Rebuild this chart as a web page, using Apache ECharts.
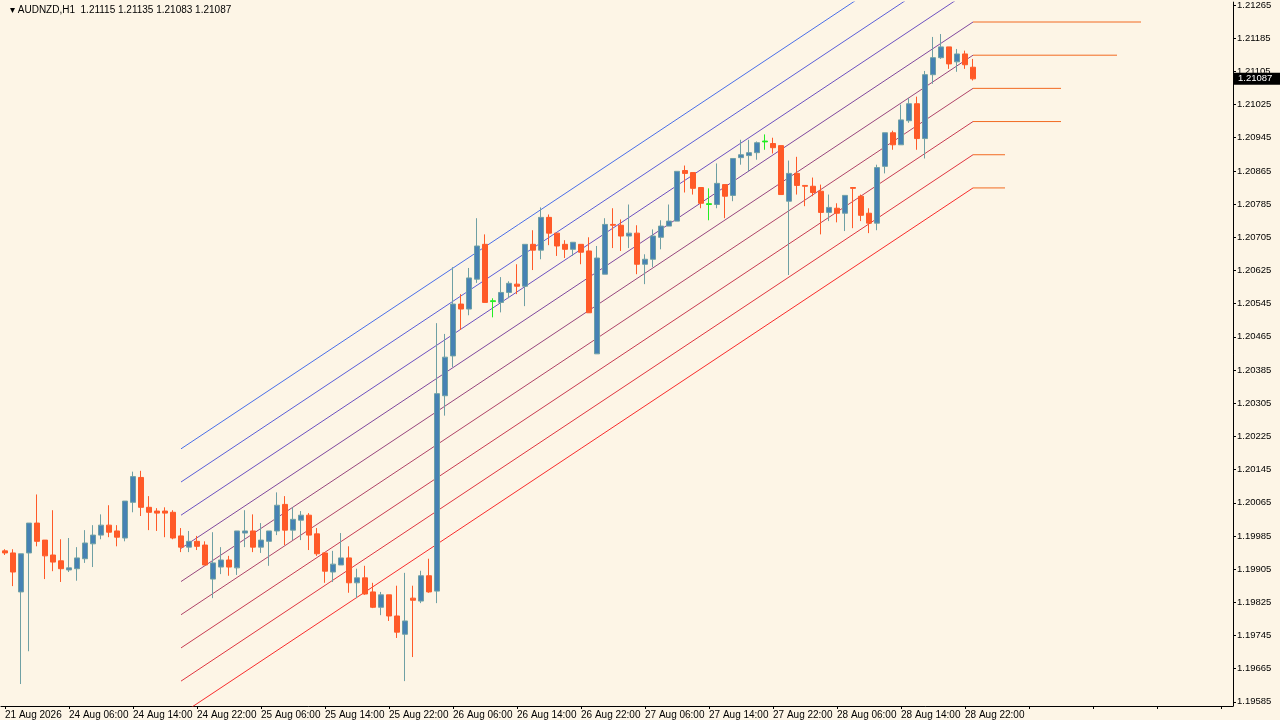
<!DOCTYPE html>
<html><head><meta charset="utf-8">
<script src="https://cdn.jsdelivr.net/npm/echarts@6/dist/echarts.min.js"></script>
<style>html,body{margin:0;padding:0;background:#fdf5e6}#c{width:1280px;height:720px}</style>
</head><body><div id="c"></div>
<script>
const openP=[1.19949,1.19944,1.19850,1.19944,1.20016,1.19975,1.19939,1.19925,1.19903,1.19906,1.19930,1.19966,1.19987,1.20011,1.19997,1.19980,1.20066,1.20126,1.20054,1.20045,1.20045,1.20042,1.19985,1.19958,1.19972,1.19963,1.19881,1.19910,1.19927,1.19908,1.19992,1.19997,1.19958,1.19972,1.19997,1.20061,1.19999,1.20023,1.20035,1.19990,1.19944,1.19898,1.19915,1.19932,1.19872,1.19884,1.19850,1.19813,1.19843,1.19792,1.19748,1.19835,1.19828,1.19889,1.19852,1.20323,1.20419,1.20544,1.20532,1.20604,1.20688,1.20550,1.20548,1.20572,1.20592,1.20587,1.20688,1.20674,1.20753,1.20715,1.20688,1.20676,1.20688,1.20672,1.20424,1.20616,1.20736,1.20734,1.20708,1.20715,1.20640,1.20652,1.20705,1.20732,1.20744,1.20866,1.20861,1.20825,1.20784,1.20784,1.20832,1.20806,1.20897,1.20902,1.20909,1.20935,1.20931,1.20926,1.20792,1.20859,1.20830,1.20828,1.20816,1.20765,1.20775,1.20763,1.20825,1.20804,1.20763,1.20739,1.20876,1.20957,1.20928,1.20986,1.21027,1.20943,1.21097,1.21138,1.21164,1.21128,1.21147,1.21115];
const closeP=[1.19944,1.19898,1.19942,1.20016,1.19972,1.19937,1.19922,1.19906,1.19908,1.19932,1.19968,1.19987,1.20011,1.19994,1.19982,1.20069,1.20128,1.20054,1.20042,1.20040,1.20040,1.19980,1.19958,1.19972,1.19960,1.19915,1.19920,1.19927,1.19910,1.19997,1.19997,1.19958,1.19975,1.19997,1.20059,1.19999,1.20025,1.20035,1.19987,1.19942,1.19900,1.19917,1.19932,1.19872,1.19884,1.19845,1.19813,1.19843,1.19792,1.19753,1.19780,1.19830,1.19889,1.19850,1.20328,1.20416,1.20544,1.20532,1.20607,1.20684,1.20548,1.20552,1.20572,1.20594,1.20587,1.20688,1.20674,1.20753,1.20715,1.20684,1.20676,1.20693,1.20669,1.20523,1.20655,1.20736,1.20734,1.20708,1.20715,1.20640,1.20652,1.20708,1.20732,1.20744,1.20864,1.20859,1.20823,1.20787,1.20786,1.20835,1.20804,1.20895,1.20904,1.20909,1.20933,1.20937,1.20921,1.20808,1.20859,1.20830,1.20828,1.20813,1.20765,1.20777,1.20763,1.20806,1.20823,1.20758,1.20739,1.20873,1.20957,1.20928,1.20988,1.21027,1.20943,1.21097,1.21138,1.21164,1.21123,1.21147,1.21121,1.21087];
const lowP=[1.19939,1.19864,1.19628,1.19707,1.19960,1.19881,1.19900,1.19874,1.19898,1.19877,1.19920,1.19910,1.19977,1.19982,1.19960,1.19972,1.20042,1.20033,1.19999,1.19997,1.19982,1.19977,1.19946,1.19946,1.19951,1.19915,1.19835,1.19893,1.19889,1.19891,1.19958,1.19946,1.19944,1.19913,1.19987,1.19963,1.19975,1.19975,1.19951,1.19937,1.19872,1.19874,1.19915,1.19848,1.19835,1.19843,1.19811,1.19794,1.19780,1.19739,1.19635,1.19693,1.19823,1.19848,1.19823,1.20275,1.20392,1.20482,1.20517,1.20595,1.20548,1.20512,1.20524,1.20558,1.20568,1.20539,1.20626,1.20652,1.20686,1.20660,1.20655,1.20660,1.20640,1.20523,1.20424,1.20616,1.20679,1.20672,1.20679,1.20616,1.20592,1.20633,1.20676,1.20732,1.20744,1.20813,1.20808,1.20775,1.20746,1.20775,1.20751,1.20792,1.20880,1.20864,1.20892,1.20916,1.20907,1.20808,1.20614,1.20808,1.20780,1.20804,1.20712,1.20744,1.20741,1.20720,1.20727,1.20744,1.20715,1.20722,1.20859,1.20916,1.20928,1.20981,1.20916,1.20895,1.21075,1.21135,1.21111,1.21104,1.21111,1.21083];
const highP=[1.19953,1.19953,1.19942,1.20016,1.20085,1.19975,1.20047,1.19977,1.19980,1.19958,1.19999,1.20011,1.20037,1.20059,1.20011,1.20069,1.20140,1.20142,1.20081,1.20052,1.20054,1.20047,1.20004,1.19997,1.19985,1.19972,1.19994,1.19958,1.19937,1.19997,1.20047,1.20037,1.20016,1.19997,1.20090,1.20081,1.20054,1.20045,1.20040,1.20004,1.19946,1.19949,1.19992,1.19960,1.19906,1.19913,1.19872,1.19850,1.19843,1.19865,1.19896,1.19865,1.19901,1.19930,1.20498,1.20472,1.20633,1.20568,1.20631,1.20751,1.20712,1.20558,1.20609,1.20599,1.20640,1.20688,1.20722,1.20777,1.20760,1.20715,1.20698,1.20693,1.20688,1.20705,1.20684,1.20751,1.20775,1.20748,1.20784,1.20734,1.20664,1.20724,1.20746,1.20784,1.20864,1.20878,1.20861,1.20825,1.20823,1.20883,1.20832,1.20895,1.20940,1.20940,1.20936,1.20953,1.20945,1.20926,1.20890,1.20899,1.20830,1.20849,1.20832,1.20808,1.20787,1.20806,1.20825,1.20808,1.20775,1.20880,1.20957,1.20962,1.21025,1.21041,1.21044,1.21106,1.21188,1.21195,1.21164,1.21159,1.21155,1.21135];
const greenIdx=[61,88,95];
const timeLabels=['21 Aug 2026','24 Aug 06:00','24 Aug 14:00','24 Aug 22:00','25 Aug 06:00','25 Aug 14:00','25 Aug 22:00','26 Aug 06:00','26 Aug 14:00','26 Aug 22:00','27 Aug 06:00','27 Aug 14:00','27 Aug 22:00','28 Aug 06:00','28 Aug 14:00','28 Aug 22:00'];
const priceTicks=[1.19585,1.19665,1.19745,1.19825,1.19905,1.19985,1.20065,1.20145,1.20225,1.20305,1.20385,1.20465,1.20545,1.20625,1.20705,1.20785,1.20865,1.20945,1.21025,1.21105,1.21185,1.21265];
const chStart=[1.20195,1.20115,1.20035,1.19955,1.19875,1.19795,1.19715,1.19635,1.19555];
const chEnd=[1.21464,1.21384,1.21304,1.21224,1.21144,1.21064,1.20984,1.20904,1.20824];
const chColors=['#4a6ee8','#5a5ed8','#6c50c0','#80489e','#98467e','#b04468','#c83c52','#e03640','#f82c2c'];
const extEnd=[null,null,null,142,139,132,132,125,125];
const chFrom=22, chTo=121, nCat=154;
const FONT='Liberation Sans';

const cats=[];for(let i=0;i<nCat;i++)cats.push(String(i));
const candles=openP.map((o,i)=>{
  const d={value:[o,closeP[i],lowP[i],highP[i]]};
  if(greenIdx.includes(i))d.itemStyle={color:'#22ee22',borderColor:'#22ee22',color0:'#22ee22',borderColor0:'#22ee22'};
  return d;});
const last=closeP[closeP.length-1];
const series=[{type:'candlestick',data:candles,barWidth:6,
  itemStyle:{color:'#4682b4',color0:'#ff5a28',borderColor:'#6fa0a4',borderColor0:'#ff5a28',borderWidth:1},z:5}];
chStart.forEach((s,k)=>{
  series.push({type:'line',data:[[chFrom,s],[chTo,chEnd[k]]],symbol:'none',silent:true,
    lineStyle:{color:chColors[k],width:1},z:3});
  if(extEnd[k])series.push({type:'line',data:[[chTo,chEnd[k]],[extEnd[k],chEnd[k]]],symbol:'none',silent:true,
    lineStyle:{color:'#f26a22',width:1},z:3});
});
const chart=echarts.init(document.getElementById('c'));
chart.setOption({
  backgroundColor:'#fdf5e6',animation:false,
  title:{text:'▾ AUDNZD,H1  1.21115 1.21135 1.21083 1.21087',left:5,top:0,
    textStyle:{fontSize:10,fontWeight:'normal',color:'#000',fontFamily:FONT}},
  grid:{left:1,right:47,top:0,bottom:14},
  xAxis:{type:'category',data:cats,boundaryGap:true,
    axisLine:{lineStyle:{color:'#000'}},
    axisTick:{show:true,interval:7,length:3,lineStyle:{color:'#000'},alignWithLabel:true},
    axisLabel:{interval:7,align:'left',margin:4,fontSize:10,color:'#000',fontFamily:FONT,
      formatter:(v,i)=>timeLabels[i/8]||''},splitLine:{show:false}},
  yAxis:{type:'value',position:'right',min:1.19575,max:1.21272,scale:true,
    axisLine:{show:true,lineStyle:{color:'#000'}},
    axisTick:{show:true,length:3,customValues:priceTicks,lineStyle:{color:'#000'}},
    axisLabel:{customValues:priceTicks,formatter:v=>v.toFixed(5),fontSize:9.5,color:'#000',margin:4,fontFamily:FONT},
    splitLine:{show:false}},
  series:series
});
const py=chart.convertToPixel({yAxisIndex:0},last);
chart.setOption({graphic:[{type:'rect',z:100,shape:{x:1234,y:py-6,width:46,height:12},style:{fill:'#000'}},
  {type:'text',z:101,x:1238,y:py,style:{text:last.toFixed(5),fill:'#fff',font:'9.5px "Liberation Sans"',verticalAlign:'middle'}}]});
</script></body></html>
